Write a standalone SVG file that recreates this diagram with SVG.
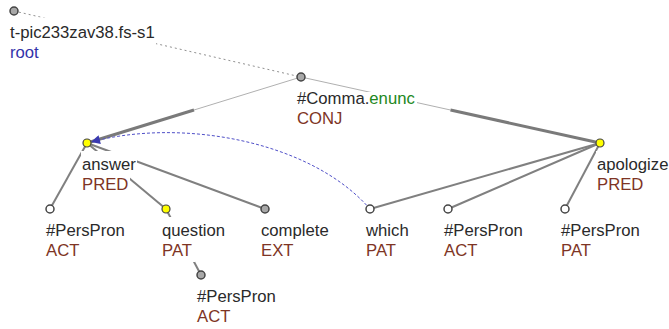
<svg xmlns="http://www.w3.org/2000/svg" width="669" height="329" viewBox="0 0 669 329">
<style>
text{font-family:"Liberation Sans",Arial,sans-serif;font-size:16.7px}
.t{fill:#2a2a2a}
.f{fill:#7e3424}
.bg{fill:#fff}
.thin{stroke:#b0b0b0;stroke-width:1;fill:none}
.thick{stroke:#7a7a7a;stroke-width:3;fill:none}
.e{stroke:#808080;stroke-width:2;fill:none}
.n{stroke:#444;stroke-width:1.5;fill:#fff}
.g{stroke:#444;stroke-width:1.5;fill:#a8a8a8}
.y{stroke:#444;stroke-width:1.2;fill:#ffff00}
</style>
<defs>
<marker id="ar" viewBox="0 0 10 10" refX="10" refY="5" markerWidth="17" markerHeight="9" markerUnits="userSpaceOnUse" orient="auto">
<path d="M0,0 L10,5 L0,10 z" fill="#3a3ab0"/>
</marker>
</defs>
<g id="connectors">
<line x1="14" y1="11" x2="301" y2="77" stroke="#909090" stroke-width="1" stroke-dasharray="2,3"/>
<line class="thin" x1="301" y1="77" x2="194" y2="110"/>
<line class="thick" x1="194" y1="110" x2="87" y2="143"/>
<line class="thin" x1="301" y1="77" x2="450.5" y2="110"/>
<line class="thick" x1="450.5" y1="110" x2="600" y2="143"/>
<line class="e" x1="87" y1="143" x2="50" y2="209"/>
<line class="e" x1="87" y1="143" x2="166" y2="209"/>
<line class="e" x1="87" y1="143" x2="265" y2="209"/>
<line class="e" x1="166" y1="209" x2="201" y2="275"/>
<line class="e" x1="600" y1="143" x2="370" y2="209"/>
<line class="e" x1="600" y1="143" x2="448" y2="209"/>
<line class="e" x1="600" y1="143" x2="565" y2="209"/>
<path d="M370,209 C310,140 180,118 91,142" fill="none" stroke="#5050c8" stroke-width="1" stroke-dasharray="3,2" marker-end="url(#ar)"/>
</g>
<g id="n-root">
<rect class="bg" x="9" y="17.5" width="147" height="27"/>
<rect class="bg" x="9" y="43" width="31" height="20"/>
<text class="t" x="10" y="38">t-pic233zav38.fs-s1</text>
<text x="10" y="58" fill="#3333aa">root</text>
<circle class="g" cx="14" cy="11" r="4"/>
</g>
<g id="n-comma">
<rect class="bg" x="296" y="92" width="121" height="16"/>
<rect class="bg" x="296" y="108" width="48" height="20"/>
<text class="t" x="297" y="104">#Comma.<tspan fill="#228822">enunc</tspan></text>
<text class="f" x="297" y="124">CONJ</text>
<circle class="g" cx="301" cy="77" r="4"/>
</g>
<g id="n-answer">
<rect class="bg" x="81" y="151" width="56" height="23"/>
<rect class="bg" x="81" y="174" width="49" height="20"/>
<text class="t" x="82" y="170">answer</text>
<text class="f" x="82" y="190">PRED</text>
<circle class="y" cx="87" cy="143" r="4"/>
</g>
<g id="n-apologize">
<rect class="bg" x="596" y="151" width="73" height="23"/>
<text class="t" x="597" y="170">apologize</text>
<text class="f" x="597" y="190">PRED</text>
<circle class="y" cx="600" cy="143" r="4"/>
</g>
<g id="n-perspron1">
<rect class="bg" x="45" y="217" width="81" height="42"/>
<text class="t" x="46" y="236">#PersPron</text>
<text class="f" x="46" y="256">ACT</text>
<circle class="n" cx="50" cy="209" r="4"/>
</g>
<g id="n-question">
<rect class="bg" x="161" y="217" width="65" height="23"/>
<rect class="bg" x="161" y="240" width="34" height="22"/>
<text class="t" x="162" y="236">question</text>
<text class="f" x="162" y="256">PAT</text>
<circle class="y" cx="166" cy="209" r="4"/>
</g>
<g id="n-complete">
<text class="t" x="261" y="236">complete</text>
<text class="f" x="261" y="256">EXT</text>
<circle class="g" cx="265" cy="209" r="4"/>
</g>
<g id="n-perspron2">
<text class="t" x="197" y="302">#PersPron</text>
<text class="f" x="197" y="322">ACT</text>
<circle class="g" cx="201" cy="275" r="4"/>
</g>
<g id="n-which">
<text class="t" x="366" y="236">which</text>
<text class="f" x="366" y="256">PAT</text>
<circle class="n" cx="370" cy="209" r="4"/>
</g>
<g id="n-perspron3">
<text class="t" x="444" y="236">#PersPron</text>
<text class="f" x="444" y="256">ACT</text>
<circle class="n" cx="448" cy="209" r="4"/>
</g>
<g id="n-perspron4">
<text class="t" x="561" y="236">#PersPron</text>
<text class="f" x="561" y="256">PAT</text>
<circle class="n" cx="565" cy="209" r="4"/>
</g>
</svg>
